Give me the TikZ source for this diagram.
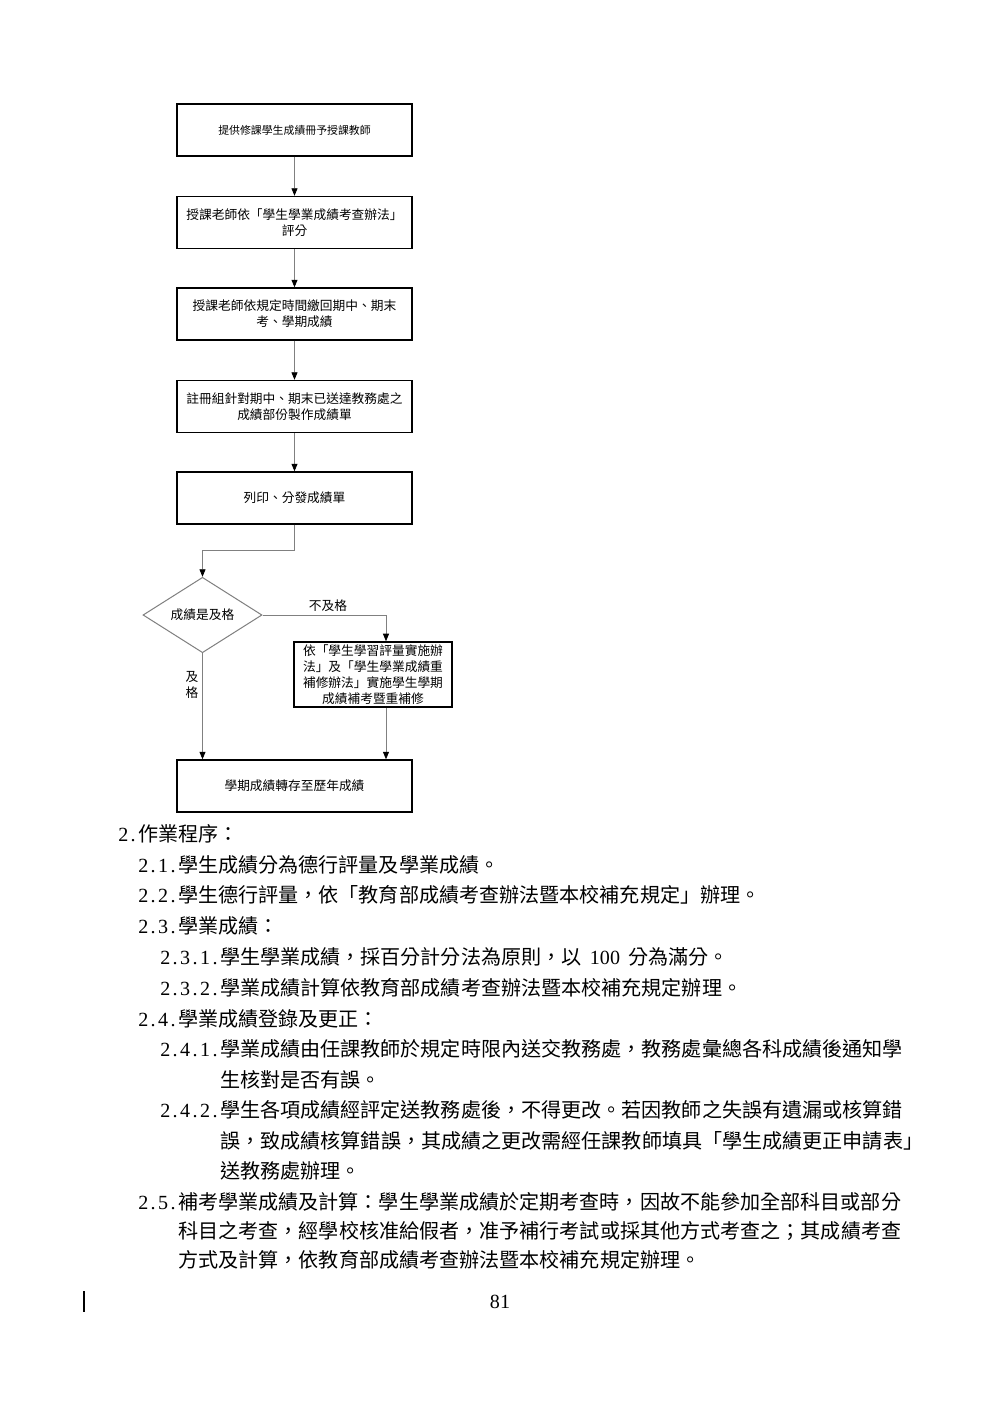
\documentclass[tikz,border=0pt]{standalone}
\usepackage{fontspec}
\setmainfont{Liberation Serif}
\newfontfamily\cjk{Noto Sans CJK TC}
\usetikzlibrary{arrows.meta,shapes.geometric}
\newcommand\hb[1]{\makebox[5.95pt][c]{#1}}
\begin{document}
\begin{tikzpicture}[x=0.21mm,y=-0.21mm,
  box/.style={draw=black, line width=0.9pt, minimum width=49.35mm, minimum height=10.9mm,
    align=center, inner sep=1pt, font=\cjk\fontsize{7.6}{9.6}\selectfont},
  conn/.style={draw=gray, line width=0.5pt, -{Triangle[length=4.5pt,width=3.6pt,color=black]}},
  plain/.style={draw=gray, line width=0.5pt},
  lbl/.style={inner sep=0pt, align=center, font=\cjk\fontsize{7.6}{9.6}\selectfont},
  body/.style={anchor=west, inner sep=0pt, font=\fontsize{12}{14}\selectfont}]
\fill[white] (0,0) rectangle (1000,1415);
\useasboundingbox (0,0) rectangle (1000,1415);

% flowchart
\node[box, font=\cjk\fontsize{6.5}{8}\selectfont] (b1) at (294.5,130) {提供修課學生成績冊予授課教師};
\node[box] (b2) at (294.5,222.5) {授課老師依「學生學業成績考查辦法」\\評分};
\node[box] (b3) at (294.5,314) {授課老師依規定時間繳回期中、期末\\考、學期成績};
\node[box] (b4) at (294.5,406.5) {註冊組針對期中、期末已送達教務處之\\成績部份製作成績單};
\node[box] (b5) at (294.5,498) {列印、分發成績單};
\node[draw=gray, line width=0.6pt, diamond, minimum width=25mm, minimum height=10.9mm,
  inner sep=0pt, font=\cjk\fontsize{7.6}{9.6}\selectfont] (dia) at (202.5,615) {成績是及格};
\node[box, minimum width=33.2mm, minimum height=13.65mm] (b6) at (373,674.5)
  {依「學生學習評量實施辦\\法」及「學生學業成績重\\補修辦法」實施學生學期\\成績補考暨重補修};
\node[box] (b7) at (294.5,786) {學期成績轉存至歷年成績};

\coordinate (k1) at (294.5,550);
\coordinate (k2) at (386,615);

\draw[conn] (b1) -- (b2);
\draw[conn] (b2) -- (b3);
\draw[conn] (b3) -- (b4);
\draw[conn] (b4) -- (b5);
\draw[conn] (b5.south) -- (k1) -| (dia.north);
\draw[conn] (dia.east) -- (k2) -- (k2 |- b6.north);
\draw[conn] (k2 |- b6.south) -- (k2 |- b7.north);
\draw[conn] (dia.south) -- (dia.south |- b7.north);

\node[lbl] (nopass) at (328,606) {不及格};
\node[lbl] (pass) at (192,685) {及\\格};

% body text
\node[body] (t1) at (118,834) {\hb{2}\hb{.}{\cjk 作業程序：}};
\node[body] (t2) at (138,865) {\hb{2}\hb{.}\hb{1}\hb{.}{\cjk 學生成績分為德行評量及學業成績。}};
\node[body] (t3) at (138,895) {\hb{2}\hb{.}\hb{2}\hb{.}{\cjk 學生德行評量，依「教育部成績考查辦法暨本校補充規定」辦理。}};
\node[body] (t4) at (138,926) {\hb{2}\hb{.}\hb{3}\hb{.}{\cjk 學業成績：}};
\node[body] (t5) at (160,957) {\hb{2}\hb{.}\hb{3}\hb{.}\hb{1}\hb{.}{\cjk 學生學業成績，採百分計分法為原則，以}\hspace{5pt}100\hspace{5pt}{\cjk 分為滿分。}};
\node[body] (t6) at (160,988) {\hb{2}\hb{.}\hb{3}\hb{.}\hb{2}\hb{.}{\cjk 學業成績計算依教育部成績考查辦法暨本校補充規定辦理。}};
\node[body] (t7) at (138,1019) {\hb{2}\hb{.}\hb{4}\hb{.}{\cjk 學業成績登錄及更正：}};
\node[body] (t8) at (160,1049) {\hb{2}\hb{.}\hb{4}\hb{.}\hb{1}\hb{.}{\cjk 學業成績由任課教師於規定時限內送交教務處，教務處彙總各科成績後通知學}};
\node[body] (t9) at (220,1080) {{\cjk 生核對是否有誤。}};
\node[body] (t10) at (160,1110) {\hb{2}\hb{.}\hb{4}\hb{.}\hb{2}\hb{.}{\cjk 學生各項成績經評定送教務處後，不得更改。若因教師之失誤有遺漏或核算錯}};
\node[body] (t11) at (220,1141) {{\cjk 誤，致成績核算錯誤，其成績之更改需經任課教師填具「學生成績更正申請表」}};
\node[body] (t12) at (220,1171) {{\cjk 送教務處辦理。}};
\node[body] (t13) at (138,1202) {\hb{2}\hb{.}\hb{5}\hb{.}{\cjk 補考學業成績及計算：學生學業成績於定期考查時，因故不能參加全部科目或部分}};
\node[body] (t14) at (178,1231) {{\cjk 科目之考查，經學校核准給假者，准予補行考試或採其他方式考查之；其成績考查}};
\node[body] (t15) at (178,1260) {{\cjk 方式及計算，依教育部成績考查辦法暨本校補充規定辦理。}};

\node[inner sep=0pt, font=\fontsize{12}{14}\selectfont] (pg) at (500,1302) {81};
\coordinate (bar1) at (84,1291);
\coordinate (bar2) at (84,1312);
\draw[line width=0.9pt] (bar1) -- (bar2);
\end{tikzpicture}
\end{document}
